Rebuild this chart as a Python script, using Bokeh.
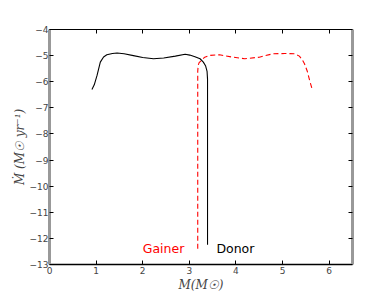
from bokeh.plotting import figure
from bokeh.models import LinearAxis, Range1d, FixedTicker, Label
from bokeh.embed import file_html
from bokeh.resources import INLINE

# Donor (black solid)
donor_m = [0.91, 0.96, 1.02, 1.09, 1.16, 1.23, 1.35, 1.45, 1.6, 1.8, 2.0, 2.23, 2.45, 2.7, 2.91,
           3.01, 3.12, 3.23, 3.30, 3.35, 3.38, 3.39, 3.39]
donor_mdot = [-6.30, -6.12, -5.76, -5.25, -5.05, -4.97, -4.92, -4.90, -4.93, -5.0, -5.07, -5.12, -5.09,
              -5.02, -4.95, -4.98, -5.04, -5.12, -5.25, -5.40, -5.60, -5.90, -12.24]

# Gainer (red dashed)
gainer_m = [3.18, 3.18, 3.18, 3.19, 3.21, 3.26, 3.33, 3.45, 3.65, 3.9, 4.19, 4.5, 4.79, 5.05, 5.26,
            5.36, 5.42, 5.47, 5.53, 5.58, 5.63]
gainer_mdot = [-12.4, -6.0, -5.6, -5.37, -5.27, -5.18, -5.06, -4.99, -4.97, -5.05, -5.12, -5.06, -4.93,
               -4.92, -4.93, -5.02, -5.15, -5.31, -5.6, -5.95, -6.26]

x_ticks = [0, 1, 2, 3, 4, 5, 6]
y_ticks = [-13, -12, -11, -10, -9, -8, -7, -6, -5, -4]
y_tick_labels = {t: ("\u2212" + str(-t)) for t in y_ticks}

p = figure(width=392, height=294, output_backend="svg", toolbar_location=None,
           x_range=Range1d(0, 6.5), y_range=Range1d(-13, -4),
           x_axis_location=None, y_axis_location=None,
           min_border_left=49, min_border_right=40, min_border_top=29, min_border_bottom=29)
p.outline_line_color = None
p.xgrid.visible = False
p.ygrid.visible = False
p.background_fill_color = "white"

def style(ax, color, width, labels=True):
    ax.major_tick_in = 4
    ax.major_tick_out = 0
    ax.minor_tick_line_color = None
    ax.major_tick_line_color = "black"
    ax.axis_line_color = color
    ax.axis_line_width = width
    ax.major_label_text_font = "DejaVu Sans"
    ax.major_label_text_font_size = "9px"
    ax.major_label_standoff = 2
    if not labels:
        ax.major_label_text_color = None
        ax.major_label_text_font_size = "0px"
        ax.major_label_standoff = 0

bx = LinearAxis(ticker=FixedTicker(ticks=x_ticks), axis_label="M(M\u2609)")
style(bx, "black", 1.5)
bx.axis_label_text_font = "DejaVu Serif"
bx.axis_label_text_font_style = "italic"
bx.axis_label_text_font_size = "12px"
bx.axis_label_standoff = 1
p.add_layout(bx, "below")

ly = LinearAxis(ticker=FixedTicker(ticks=y_ticks), axis_label="M\u0307 (M\u2609 yr\u207B\u00B9)")
ly.major_label_overrides = y_tick_labels
style(ly, "#999999", 3)
ly.major_label_standoff = 1
ly.axis_label_text_font = "DejaVu Serif"
ly.axis_label_text_font_style = "italic"
ly.axis_label_text_font_size = "12px"
ly.axis_label_standoff = 0
p.add_layout(ly, "left")

tx = LinearAxis(ticker=FixedTicker(ticks=x_ticks))
style(tx, "black", 1, labels=False)
p.add_layout(tx, "above")

ry = LinearAxis(ticker=FixedTicker(ticks=y_ticks))
style(ry, "#999999", 3, labels=False)
p.add_layout(ry, "right")

p.line(donor_m, donor_mdot, line_color="black", line_width=1.1)
p.line(gainer_m, gainer_mdot, line_color="red", line_width=1.1, line_dash="5 3")

p.add_layout(Label(x=2.0, y=-12.4, text="Gainer", text_color="red", text_font="DejaVu Sans",
                   text_font_size="12.5px", text_baseline="middle"))
p.add_layout(Label(x=3.58, y=-12.4, text="Donor", text_color="black", text_font="DejaVu Sans",
                   text_font_size="12.5px", text_baseline="middle"))

open("out.html", "w").write(file_html(p, INLINE))
